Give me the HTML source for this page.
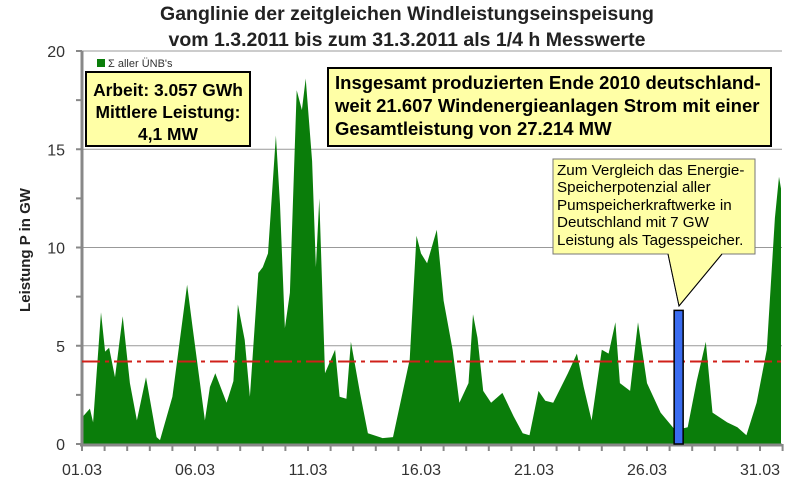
<!DOCTYPE html>
<html><head><meta charset="utf-8">
<style>
body{margin:0;background:#fff;}
svg{display:block;font-family:"Liberation Sans",sans-serif;}
</style></head>
<body>
<svg id="chart" width="812" height="498" viewBox="0 0 812 498">
  <text x="407" y="20" text-anchor="middle" font-size="19.5" font-weight="bold" fill="#222">Ganglinie der zeitgleichen Windleistungseinspeisung</text>
  <text x="407" y="46" text-anchor="middle" font-size="19.5" font-weight="bold" fill="#222">vom 1.3.2011 bis zum 31.3.2011 als 1/4 h Messwerte</text>
  <text transform="translate(30,250) rotate(-90)" text-anchor="middle" font-size="15" font-weight="bold" fill="#222">Leistung P in GW</text>
  <g id="grid"></g>
  <g id="area"></g>
  <g id="axes"></g>
  <g id="marks"></g>

  <rect x="97" y="59" width="8" height="8" fill="#0a7d0a"/>
  <text x="108" y="67" font-size="11" fill="#333">Σ aller ÜNB's</text>

  <g>
    <rect x="86" y="72" width="164" height="74" fill="#ffffa6" stroke="#000" stroke-width="2"/>
    <text x="168" y="96" text-anchor="middle" font-size="17.4" font-weight="bold">Arbeit: 3.057 GWh</text>
    <text x="168" y="118" text-anchor="middle" font-size="17.4" font-weight="bold">Mittlere Leistung:</text>
    <text x="168" y="140" text-anchor="middle" font-size="17.4" font-weight="bold">4,1 MW</text>
  </g>
  <g>
    <rect x="328" y="68" width="443" height="78" fill="#ffffa6" stroke="#000" stroke-width="2"/>
    <text x="335" y="89" font-size="18.5" font-weight="bold">Insgesamt produzierten Ende 2010 deutschland-</text>
    <text x="335" y="112" font-size="18.5" font-weight="bold">weit 21.607 Windenergieanlagen Strom mit einer</text>
    <text x="335" y="135" font-size="18.5" font-weight="bold">Gesamtleistung von 27.214 MW</text>
  </g>
  <g>
    <path d="M553,159 H755 V254 H722 L679,306 L668,254 H553 Z" fill="#ffffa6" stroke="#777" stroke-width="1"/>
    <path d="M668,254 L679,306 L722,254" fill="none" stroke="#000" stroke-width="1"/>
    <text x="557" y="175" font-size="15.2">Zum Vergleich das Energie-</text>
    <text x="557" y="192" font-size="15.2">Speicherpotenzial aller</text>
    <text x="557" y="210" font-size="15.2">Pumspeicherkraftwerke in</text>
    <text x="557" y="227" font-size="15.2">Deutschland mit 7 GW</text>
    <text x="557" y="245" font-size="15.2">Leistung als Tagesspeicher.</text>
  </g>
</svg>
<script>
const days = [1.0,1.04,1.35,1.49,1.84,2.02,2.2,2.46,2.8,3.12,3.43,3.83,4.3,4.45,5.0,5.65,5.9,6.44,6.66,6.9,7.4,7.7,7.9,8.2,8.43,8.8,9.0,9.23,9.58,9.76,9.98,10.2,10.5,10.73,10.9,11.18,11.35,11.5,11.75,12.2,12.4,12.7,12.9,13.3,13.65,14.3,14.76,15.5,15.8,16.0,16.27,16.7,17.0,17.4,17.7,18.1,18.3,18.5,18.75,19.1,19.6,20.1,20.5,20.8,21.2,21.5,21.85,22.5,22.9,23.2,23.55,24.0,24.3,24.6,24.8,25.25,25.6,26.0,26.6,27.25,27.8,28.2,28.6,28.9,29.55,30.0,30.4,30.85,31.3,31.66,31.84,31.93];
const power = [1.3,1.4,1.8,1.1,6.7,4.7,4.9,3.4,6.5,3.1,1.2,3.4,0.35,0.2,2.4,8.1,5.9,1.2,2.9,3.6,2.1,3.2,7.1,5.3,2.4,8.7,9.0,9.7,15.7,12.2,5.9,7.7,18.0,17.0,18.6,14.4,9.0,12.5,3.6,4.8,2.4,2.3,5.2,2.6,0.55,0.3,0.35,4.3,10.6,9.7,9.2,10.9,7.3,4.8,2.1,3.1,6.6,5.4,2.7,2.1,2.6,1.4,0.55,0.45,2.7,2.2,2.1,3.6,4.6,2.9,1.2,4.8,4.6,6.2,3.1,2.7,6.2,3.1,1.6,0.7,0.85,3.2,5.2,1.6,1.1,0.85,0.45,2.1,4.8,11.5,13.6,13.0];
const yTicks = [0,5,10,15,20];
const xTickLabels = ["01.03","06.03","11.03","16.03","21.03","26.03","31.03"];
const xTickDays = [1,6,11,16,21,26,31];
const meanPower = 4.2;
const storageDay = 27.4;
const storagePower = 6.8;

const NS="http://www.w3.org/2000/svg";
const X0=82, DAYW=22.6, Y0=444, PXGW=19.65, XR=782;
const xs=d=>X0+(d-1)*DAYW;
const ys=v=>Y0-v*PXGW;
function mk(tag,attrs,parent){const e=document.createElementNS(NS,tag);for(const k in attrs)e.setAttribute(k,attrs[k]);parent.appendChild(e);return e;}
const grid=document.getElementById('grid'),area=document.getElementById('area'),axes=document.getElementById('axes'),marks=document.getElementById('marks');

yTicks.forEach(t=>{
  if(t>0){const l=mk('line',{x1:X0,x2:XR,y1:ys(t),y2:ys(t),stroke:'#999','stroke-width':1},grid);
  
  }
  const tx=mk('text',{x:65,y:ys(t)+6,'text-anchor':'end','font-size':16,fill:'#333'},axes);
  tx.textContent=t;
  
  
});
for(let v=0;v<=20;v+=2.5){mk('line',{x1:76,x2:X0,y1:ys(v),y2:ys(v),stroke:'#888','stroke-width':2},axes);}

let d='M'+xs(days[0])+','+Y0;
days.forEach((dd,i)=>{d+=' L'+xs(dd).toFixed(1)+','+ys(power[i]).toFixed(1);});
d+=' L'+xs(days[days.length-1]).toFixed(1)+','+Y0+' Z';
const p=mk('path',{d:d,fill:'#0a7d0a'},area);



mk('line',{x1:X0,x2:X0,y1:ys(20),y2:Y0+2,stroke:'#888','stroke-width':3},axes);
mk('line',{x1:X0-2,x2:XR,y1:Y0+1,y2:Y0+1,stroke:'#888','stroke-width':3},axes);
for(let k=1;k<=32;k++){mk('line',{x1:xs(k),x2:xs(k),y1:Y0,y2:Y0+7,stroke:'#888','stroke-width':2},axes);}
xTickLabels.forEach((lab,i)=>{
  const tx=mk('text',{x:xs(xTickDays[i]),y:475,'text-anchor':'middle','font-size':16,fill:'#333'},axes);
  tx.textContent=lab;
  
  
});

const ml=mk('line',{x1:X0,x2:XR,y1:ys(meanPower),y2:ys(meanPower),stroke:'#d0201a','stroke-width':2,'stroke-dasharray':'18,5,4,5'},marks);


const sb=mk('rect',{x:xs(storageDay)-4.5,y:ys(storagePower),width:9,height:Y0-ys(storagePower),fill:'#3a6cf0',stroke:'#000','stroke-width':1.5},marks);


</script>
</body></html>
